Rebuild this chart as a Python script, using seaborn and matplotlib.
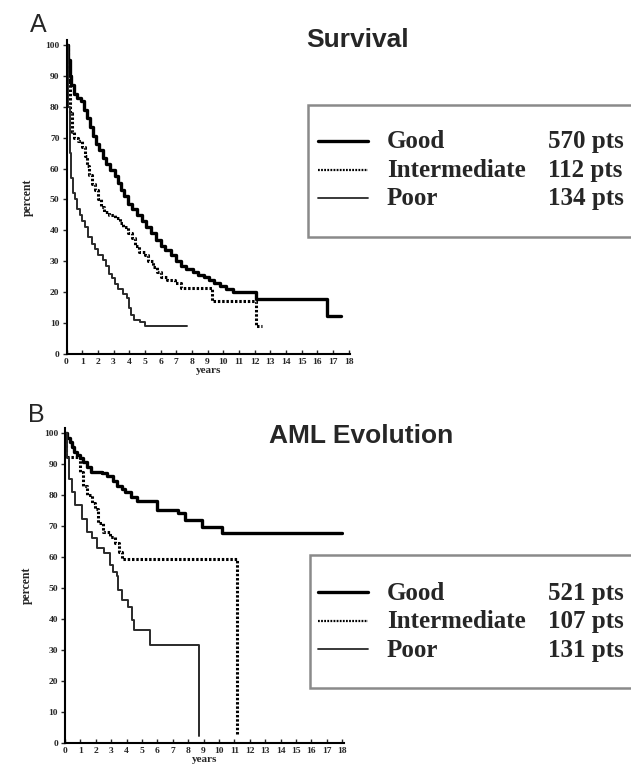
import matplotlib
matplotlib.use("Agg")
import matplotlib.pyplot as plt
import seaborn as sns
import pandas as pd
from matplotlib.patches import Rectangle
from matplotlib.lines import Line2D

# ---------------- data ----------------
groups = ["Good", "Intermediate", "Poor"]

surv_good_t = [0, 0.1, 0.2, 0.3, 0.45, 0.7, 0.9, 1.1, 1.3, 1.5, 1.7, 1.9, 2.1, 2.3, 2.5, 2.8, 3.1, 3.3, 3.5,
               3.7, 3.9, 4.2, 4.5, 4.8, 5.1, 5.4, 5.7, 6.0, 6.3, 6.7, 7.0, 7.3, 7.6, 8.1, 8.4, 8.8, 9.1, 9.4,
               9.8, 10.2, 10.6, 12.1, 16.6, 17.5]
surv_good_s = [100, 95, 90, 87, 84, 83, 82, 79, 76.5, 73.5, 70.5, 68, 66, 63.5, 61.5, 59.5, 57.5, 55.5, 53,
               51, 48.5, 47, 45, 43, 41, 39, 37, 35, 33.5, 32, 30, 28.5, 27.5, 26.5, 25.5, 25, 24, 23,
               22, 21, 20, 17.8, 12.3, 12.3]

surv_int_t = [0, 0.1, 0.2, 0.35, 0.5, 0.75, 1.0, 1.15, 1.3, 1.45, 1.6, 1.8, 2.0, 2.2, 2.4, 2.7, 3.1, 3.4, 3.6,
              3.9, 4.15, 4.4, 4.6, 5.0, 5.2, 5.5, 5.75, 6.0, 6.4, 6.9, 7.3, 9.3, 12.1, 12.5]
surv_int_s = [100, 88, 78, 72, 70, 69, 67, 64, 61, 58, 55, 53, 50, 47.5, 46, 45, 44, 42.5, 41,
              39, 37.5, 35, 33, 32, 30, 28, 26.5, 25, 24, 23, 21.5, 17.3, 9.2, 9.2]

surv_poor_t = [0, 0.1, 0.2, 0.3, 0.4, 0.55, 0.7, 0.85, 1.0, 1.2, 1.4, 1.6, 1.8, 2.0, 2.3, 2.5, 2.7, 2.9, 3.1,
               3.3, 3.6, 3.85, 4.0, 4.1, 4.3, 4.7, 5.0, 7.7]
surv_poor_s = [100, 80, 65, 57, 52, 50, 47, 45, 43, 41, 38, 35.5, 34, 32, 30.5, 28.5, 26, 24.5, 22.5,
               21, 19.5, 18, 15, 12.5, 11, 10.3, 9.2, 9.2]

aml_good_t = [0, 0.15, 0.3, 0.45, 0.6, 0.8, 1.0, 1.2, 1.45, 1.7, 2.4, 2.7, 3.1, 3.4, 3.7, 3.9, 4.3, 4.65,
              5.95, 7.36, 7.8, 8.9, 10.2, 18.0]
aml_good_s = [100, 98.5, 97, 95.5, 94, 93, 92, 90.5, 89, 87.5, 87, 86, 84.5, 83, 82, 81, 79.5, 78,
              75.3, 74.2, 72, 69.8, 67.6, 67.6]

aml_int_t = [0, 0.05, 1.0, 1.19, 1.4, 1.73, 1.95, 2.16, 2.49, 2.9, 3.25, 3.5, 3.7, 11.2]
aml_int_s = [100, 92.4, 87.5, 83, 80, 77.3, 75.4, 71, 68.2, 66.6, 64.4, 61.6, 59.3, 3]

aml_poor_t = [0, 0.1, 0.25, 0.43, 0.65, 1.08, 1.4, 1.73, 2.06, 2.5, 2.9, 3.1, 3.36, 3.47, 3.7, 4.1, 4.34,
              4.45, 5.55, 8.7]
aml_poor_s = [100, 92, 85, 81, 76.7, 72.4, 68, 66, 62.8, 61.2, 57.4, 55.3, 53.8, 49.5, 46.2, 44, 39.8,
              36.6, 31.7, 2.1]

surv_counts = ["570 pts", "112 pts", "134 pts"]
aml_counts = ["521 pts", "107 pts", "131 pts"]

x_ticks = list(range(0, 19))
y_ticks = list(range(0, 101, 10))

# ---------------- style ----------------
sns.set_style("ticks")
plt.rcParams["font.family"] = ["Liberation Serif", "DejaVu Serif"]

styles = {
    "Good": dict(color="black", linewidth=2.4, linestyle="-"),
    "Intermediate": dict(color="black", linewidth=2.2, linestyle=(0, (0.8, 0.6))),
    "Poor": dict(color="#2a2a2a", linewidth=1.4, linestyle="-"),
}
legend_styles = {
    "Good": dict(color="black", linewidth=2.4, linestyle="-"),
    "Intermediate": dict(color="black", linewidth=1.6, linestyle=(0, (0.8, 0.6))),
    "Poor": dict(color="#2a2a2a", linewidth=1.3, linestyle="-"),
}

W, H = 631, 778
fig = plt.figure(figsize=(W / 100, H / 100), dpi=100)


def fx(px):
    return px / W


def fy(py):
    return 1 - py / H


def panel(rect, curves, title, title_xy, letter, letter_xy, counts, box, rows, handle_ys):
    ax = fig.add_axes(rect)
    for g, (t, s) in zip(groups, curves):
        df = pd.DataFrame({"years": t, "percent": s})
        sns.lineplot(data=df, x="years", y="percent", ax=ax, estimator=None, sort=False,
                     drawstyle="steps-post", **styles[g])
    ax.set_xlim(0, 18.1)
    ax.set_ylim(0, 101.5)
    ax.set_xticks(x_ticks)
    ax.set_yticks(y_ticks)
    ax.set_xticklabels([str(v) for v in x_ticks], fontsize=6.8, fontweight="bold")
    ax.set_yticklabels([str(v) for v in y_ticks], fontsize=6.8, fontweight="bold")
    ax.tick_params(axis="x", direction="in", length=3, width=1, pad=3)
    ax.tick_params(axis="y", direction="out", length=3, width=1, pad=2)
    ax.set_xlabel("years", fontsize=8, fontweight="bold", labelpad=0)
    ax.set_ylabel("percent", fontsize=8.5, fontweight="bold", labelpad=8)
    for side in ("top", "right"):
        ax.spines[side].set_visible(False)
    for side in ("left", "bottom"):
        ax.spines[side].set_linewidth(1.5)
        ax.spines[side].set_color("black")
    ax.patch.set_alpha(0)

    fig.text(fx(title_xy[0]), fy(title_xy[1]), title, ha="center", va="baseline",
             fontsize=19, fontweight="bold", family="Liberation Sans")
    fig.text(fx(letter_xy[0]), fy(letter_xy[1]), letter, ha="left", va="baseline",
             fontsize=18, family="Liberation Sans")

    # legend box (extends beyond right edge as in the reference)
    x0, y0, y1 = box
    fig.patches.append(Rectangle((fx(x0), fy(y1)), 0.6, fy(y0) - fy(y1), transform=fig.transFigure,
                                 facecolor="white", edgecolor="#8a8a8a", linewidth=1.8))
    for g, c, base, hy in zip(groups, counts, rows, handle_ys):
        fig.lines.append(Line2D([fx(318), fx(368)], [fy(hy), fy(hy)], transform=fig.transFigure,
                                **legend_styles[g]))
        fig.text(fx(387), fy(base), g, ha="left", va="baseline", fontsize=18, fontweight="bold")
        fig.text(fx(548), fy(base), c, ha="left", va="baseline", fontsize=18, fontweight="bold")
    return ax


panel([fx(66.5), fy(354), 15.67 * 18.1 / W, 3.09 * 101.5 / H],
      [(surv_good_t, surv_good_s), (surv_int_t, surv_int_s), (surv_poor_t, surv_poor_s)],
      "Survival", (358, 47), "A", (30, 32), surv_counts,
      (308, 105, 237), (148, 177, 205), (141, 170, 198))

panel([fx(65), fy(743), 15.4 * 18.1 / W, 3.1 * 101.5 / H],
      [(aml_good_t, aml_good_s), (aml_int_t, aml_int_s), (aml_poor_t, aml_poor_s)],
      "AML Evolution", (361, 443), "B", (28, 422), aml_counts,
      (310, 555, 688), (600, 628, 657), (592, 621, 649))

fig.savefig("out.png", dpi=100)
